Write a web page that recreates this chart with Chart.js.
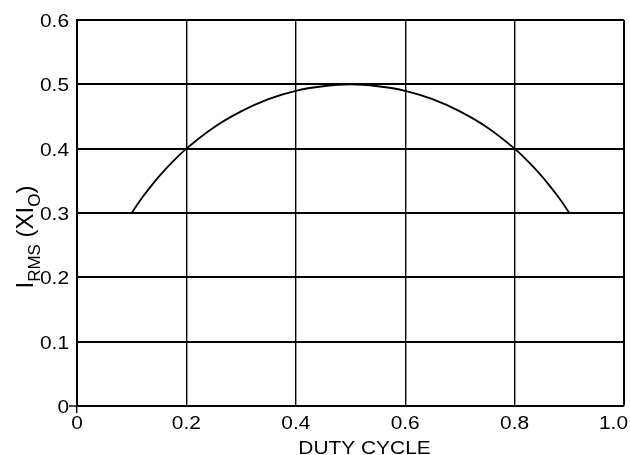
<!DOCTYPE html>
<html>
<head>
<meta charset="utf-8">
<script src="https://cdn.jsdelivr.net/npm/chart.js@4.4.0/dist/chart.umd.min.js"></script>
<style>
  html, body { margin: 0; padding: 0; background: #fff; }
  #wrap { width: 630px; height: 455px; }
</style>
</head>
<body>
<div id="wrap"><canvas id="chart"></canvas></div>
<script>
// valores
const dutyCycle = [0.10, 0.11, 0.12, 0.13, 0.15, 0.175, 0.20, 0.25, 0.30, 0.35, 0.40, 0.45, 0.50,
                   0.55, 0.60, 0.65, 0.70, 0.75, 0.80, 0.825, 0.85, 0.87, 0.88, 0.89, 0.90];
const irms = [0.300, 0.313, 0.325, 0.336, 0.357, 0.380, 0.400, 0.433, 0.458, 0.477, 0.490, 0.497, 0.500,
              0.497, 0.490, 0.477, 0.458, 0.433, 0.400, 0.380, 0.357, 0.336, 0.325, 0.313, 0.300];
const xTicks = [0, 0.2, 0.4, 0.6, 0.8, 1.0];
const xTickLabels = ['0', '0.2', '0.4', '0.6', '0.8', '1.0'];
const yTicks = [0, 0.1, 0.2, 0.3, 0.4, 0.5, 0.6];
const yTickLabels = ['0', '0.1', '0.2', '0.3', '0.4', '0.5', '0.6'];
const xTitle = 'DUTY CYCLE';
// I_RMS (XI_O)
const yTitleParts = [['I', 0], ['RMS', 1], [' (XI', 0], ['O', 1], [')', 0]];

const FONT = '"Liberation Sans", Arial, sans-serif';
const STRETCH = 1.1;

function drawText(ctx, text, x, y, align, size) {
    ctx.save();
    ctx.font = size + 'px ' + FONT;
    ctx.translate(x, y);
    ctx.scale(STRETCH, 1);
    ctx.textAlign = align;
    ctx.fillText(text, 0, 0);
    ctx.restore();
}

// textos dibujados a mano (etiquetas, titulos)
const labelsPlugin = {
    id: 'labels',
    afterDraw(chart) {
        const ctx = chart.ctx;
        const xs = chart.scales.x, ys = chart.scales.y;
        const area = chart.chartArea;
        ctx.save();
        ctx.fillStyle = '#000';
        ctx.textBaseline = 'alphabetic';
        yTicks.forEach((v, i) => {
            drawText(ctx, yTickLabels[i], area.left - 8, ys.getPixelForValue(v) + 7, 'right', 19);
        });
        ctx.font = '19px ' + FONT;
        xTicks.forEach((v, i) => {
            let px = xs.getPixelForValue(v);
            const w = ctx.measureText(xTickLabels[i]).width * STRETCH;
            if (px + w / 2 > 628) px = 628 - w / 2;
            drawText(ctx, xTickLabels[i], px, area.bottom + 23, 'center', 19);
        });
        drawText(ctx, xTitle, (area.left + area.right) / 2 + 14, 454, 'center', 19);

        // titulo del eje y, girado, con subindices
        const mainSize = 24, subSize = 17;
        let total = 0;
        yTitleParts.forEach(p => {
            ctx.font = (p[1] ? subSize : mainSize) + 'px ' + FONT;
            total += ctx.measureText(p[0]).width;
        });
        ctx.translate(33, 237);
        ctx.rotate(-Math.PI / 2);
        ctx.textAlign = 'left';
        let pos = -total / 2;
        yTitleParts.forEach(p => {
            ctx.font = (p[1] ? subSize : mainSize) + 'px ' + FONT;
            ctx.fillText(p[0], pos, p[1] ? 7 : 0);
            pos += ctx.measureText(p[0]).width;
        });
        ctx.restore();
    }
};

const tickAtZero = c => (c.tick && c.tick.value === 0) ? '#000' : 'rgba(0,0,0,0)';

var ctx = document.getElementById('chart').getContext('2d');
var chart = new Chart(ctx, {
    type: 'line',
    data: {
        datasets: [{
            data: dutyCycle.map((d, i) => ({ x: d, y: irms[i] })),
            borderColor: '#000',
            borderWidth: 1.8,
            pointRadius: 0,
            fill: false,
            cubicInterpolationMode: 'monotone'
        }]
    },
    options: {
        responsive: true,
        maintainAspectRatio: false,
        animation: false,
        layout: { padding: { left: 0, right: 6, top: 20, bottom: 0 } },
        plugins: { legend: { display: false }, tooltip: { enabled: false } },
        scales: {
            x: {
                type: 'linear',
                min: 0,
                max: 1,
                ticks: { stepSize: 0.2, color: 'rgba(0,0,0,0)', font: { size: 17 } },
                grid: {
                    color: '#000',
                    lineWidth: c => (c.tick && c.tick.value === 1) ? 2 : 1.4,
                    tickLength: 7,
                    tickColor: tickAtZero,
                    tickWidth: 1.4
                },
                border: { color: '#000', width: 2 },
                afterFit: s => { s.height = 49; s.paddingLeft = 0; s.paddingRight = 0; }
            },
            y: {
                min: 0,
                max: 0.6,
                ticks: { stepSize: 0.1, color: 'rgba(0,0,0,0)', font: { size: 17 } },
                grid: {
                    color: '#000',
                    lineWidth: 2,
                    tickLength: 8,
                    tickColor: tickAtZero,
                    tickWidth: 1.4
                },
                border: { color: '#000', width: 2 },
                afterFit: s => { s.width = 77; s.paddingTop = 0; s.paddingBottom = 0; }
            }
        }
    },
    plugins: [labelsPlugin]
});
</script>
</body>
</html>
